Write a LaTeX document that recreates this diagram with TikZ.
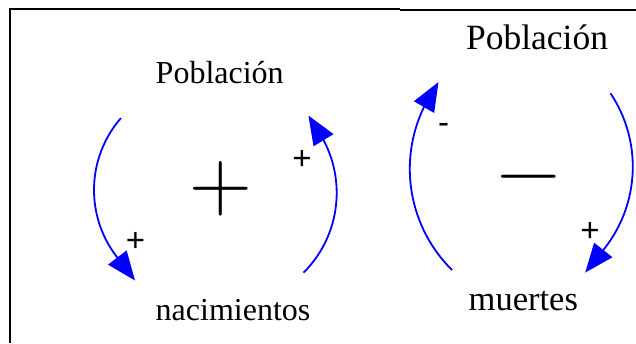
\documentclass[tikz,border=0pt]{standalone}
\usepackage{fontspec}
\newfontfamily\tnr{Liberation Serif}
\newfontfamily\arl{Liberation Sans}
\usetikzlibrary{arrows.meta}
\begin{document}
\begin{tikzpicture}[x=1pt,y=-1pt,
  frame/.style={line width=2.2pt,black},
  loop/.style={draw=blue,line width=1.8pt,-{Triangle[length=29pt,width=23pt]},fill=none},
  lab/.style={inner sep=0pt,anchor=base},
  sign/.style={inner sep=0pt,font=\arl\fontsize{33}{33}\selectfont},
  big/.style={inner sep=0pt,font=\rmfamily\fontsize{87}{87}\selectfont}]
\useasboundingbox (0,0) rectangle (636,343);
\fill[white] (0,0) rectangle (636,343);
% frame
\coordinate (f1) at (10,343);
\coordinate (f2) at (10,9);
\coordinate (f3) at (400,9);
\coordinate (f4) at (400,10);
\coordinate (f5) at (636,10);
\draw[frame] (f1) -- (f2) -- (f3);
\draw[frame] (f4) -- (f5);
% texts
\node[lab,font=\tnr\fontsize{32}{32}\selectfont] (pob1) at (219.7,83.3) {Población};
\node[lab,font=\tnr\fontsize{32}{32}\selectfont] (nac) at (233,320) {nacimientos};
\node[lab,font=\tnr\fontsize{35.5}{35.5}\selectfont] (pob2) at (537,49.3) {Población};
\node[lab,font=\tnr\fontsize{34.5}{34.5}\selectfont] (mue) at (523.3,310) {muertes};
% big polarity signs
\node[big] (plus) at (221,188.5) {+};
\node[big] (minus) at (529,176.5) {\vphantom{+}−};
% small signs
\node[sign] (s1) at (135.5,242) {+};
\node[sign] (s2) at (302,159.5) {+};
\node[sign] (s3) at (443.5,128) {-};
\node[sign] (s4) at (590,231.5) {+};
% arc end points
\coordinate (a1s) at (121,118);
\coordinate (a1d) at (116.7,256.7);
\coordinate (a1e) at (135,280.5);
\coordinate (a2s) at (303.5,272.7);
\coordinate (a2d) at (324,141);
\coordinate (a2e) at (308.4,115.5);
\coordinate (a3s) at (452,270);
\coordinate (a3d) at (423.5,108);
\coordinate (a3e) at (438.5,82);
\coordinate (a4s) at (610.5,93.3);
\coordinate (a4d) at (603.9,249.2);
\coordinate (a4e) at (585.2,272.6);
% arcs
\draw[loop] (a1s) .. controls (86.7,157.3) and (84.9,215.4) .. (a1d) -- (a1e);
\draw[loop] (a2s) .. controls (338.4,238) and (346.7,184.6) .. (a2d) -- (a2e);
\draw[loop] (a3s) .. controls (409.1,227.5) and (397.6,162.6) .. (a3d) -- (a3e);
\draw[loop] (a4s) .. controls (642.5,141.2) and (639.8,204.2) .. (a4d) -- (a4e);
\end{tikzpicture}
\end{document}
